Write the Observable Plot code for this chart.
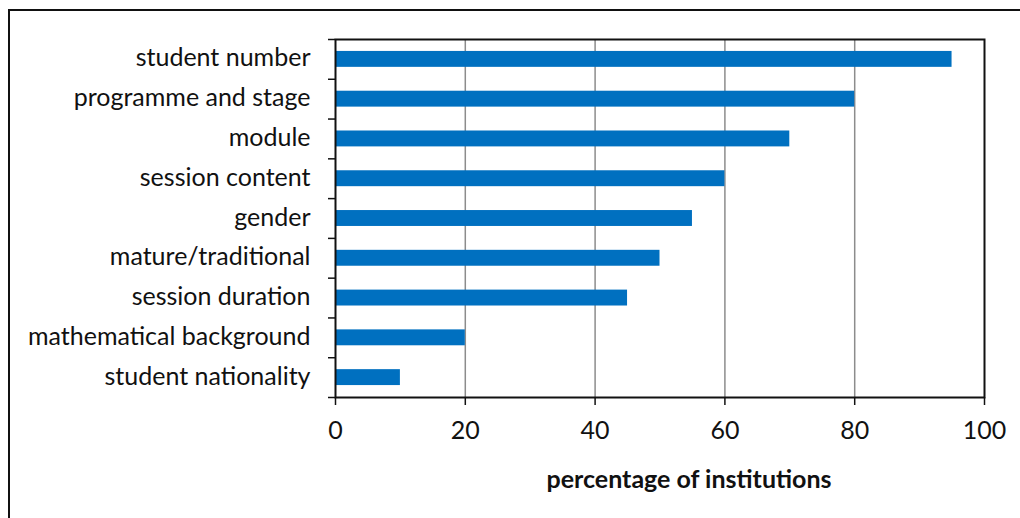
<!DOCTYPE html>
<html><head><meta charset="utf-8">
<script src="https://cdn.jsdelivr.net/npm/d3@7"></script>
<script src="https://cdn.jsdelivr.net/npm/@observablehq/plot@0.6"></script>
<style>
html,body{margin:0;padding:0;background:#fff;overflow:hidden;width:1020px;height:518px;}
#wrap{position:relative;width:1020px;height:518px;}
#border{position:absolute;left:8px;top:9px;width:1100px;height:700px;border:2px solid #111;box-sizing:border-box;}
#chart{position:absolute;left:0;top:0;}
</style></head>
<body><div id="wrap"><div id="border"></div><div id="chart"></div></div>
<script>
const categories = ["student number","programme and stage","module","session content","gender","mature/traditional","session duration","mathematical background","student nationality"];
const values = [95,80,70,60,55,50,45,20,10];
const xTicks = [0,20,40,60,80,100];
const gridTicks = [20,40,60,80];
const xTitle = "percentage of institutions";

const data = categories.map((c,i)=>({category:c, value:values[i]}));
const W=1020,H=518, mT=39, mB=121, mL=335, mR=36;
const step = (H-mT-mB)/categories.length;
const font = "Lato, 'Open Sans', sans-serif";

const chart = Plot.plot({
  width: W, height: H,
  marginTop: mT, marginBottom: mB, marginLeft: mL, marginRight: mR,
  style: {fontFamily: font, fontSize: "25px", color: "#111", background: "transparent"},
  x: {domain: [0,100], ticks: xTicks},
  y: {domain: categories, paddingInner: 0.6, paddingOuter: 0.3, round: false},
  marks: [
    Plot.ruleX(gridTicks, {stroke: "#8c8c8c", strokeWidth: 1.5, strokeOpacity: 1}),
    Plot.barX(data, {y: "category", x: "value", fill: "#0070C0"}),
    Plot.frame({stroke: "#111", strokeWidth: 2}),
    Plot.axisX({ticks: xTicks, tickSize: 8, tickPadding: 16, stroke: "#111", strokeWidth: 1.5, strokeOpacity: 1, fill: "#111", fontSize: 25, label: null}),
    Plot.axisY({tickSize: 7, text: null, dy: step/2, stroke: "#111", strokeWidth: 1.5, strokeOpacity: 1, label: null}),
    Plot.axisY({ticks: [categories[0]], tickSize: 7, text: null, dy: -step/2, stroke: "#111", strokeWidth: 1.5, strokeOpacity: 1, label: null}),
    Plot.axisY({tickSize: 0, tickPadding: 25, fill: "#111", fontSize: 25, label: null, dy: -1}),
    Plot.text([xTitle], {frameAnchor: "bottom", dy: 90, dx: 29, fontWeight: "bold", fontSize: 25, fill: "#111"})
  ]
});
document.getElementById("chart").appendChild(chart);
</script></body></html>
